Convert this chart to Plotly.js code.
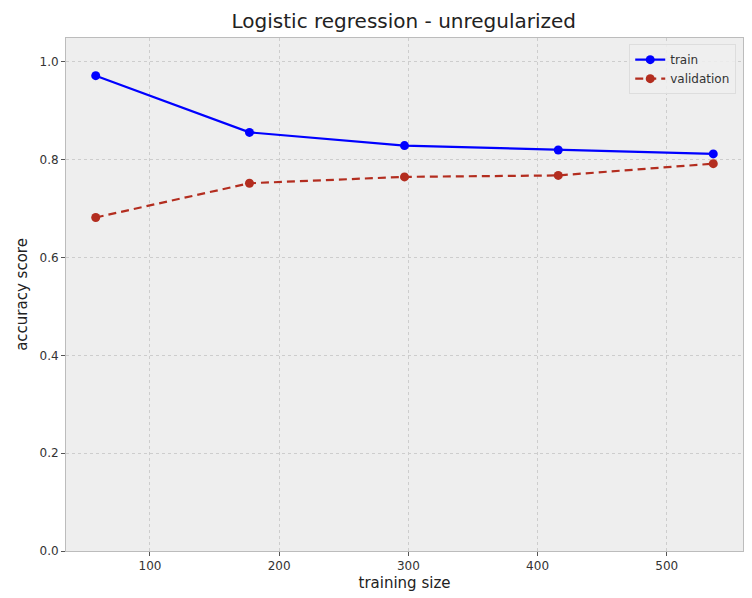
<!DOCTYPE html>
<html>
<head>
<meta charset="utf-8">
<script src="https://cdn.plot.ly/plotly-3.0.1.min.js"></script>
<style>html,body{margin:0;padding:0;background:#fff;}#chart{width:752px;height:598px;}</style>
</head>
<body>
<div id="chart"></div>
<script>
const trainSizes = [58, 177, 297, 416, 536];
const trainScores = [0.972, 0.856, 0.829, 0.820, 0.812];
const validationScores = [0.682, 0.752, 0.765, 0.768, 0.792];
const seriesNames = ['train', 'validation'];

const traces = [
  {x: trainSizes, y: trainScores, name: seriesNames[0], type: 'scatter', mode: 'lines+markers',
   line: {color: '#0000ff', width: 2.2}, marker: {color: '#0000ff', size: 9}},
  {x: trainSizes, y: validationScores, name: seriesNames[1], type: 'scatter', mode: 'lines+markers',
   line: {color: '#b32d1f', width: 2.2, dash: '8px,5px'}, marker: {color: '#b32d1f', size: 9}}
];

const layout = {
  width: 752, height: 598,
  margin: {l: 66, r: 9, t: 38, b: 47},
  paper_bgcolor: '#ffffff',
  plot_bgcolor: '#eeeeee',
  font: {family: 'DejaVu Sans, sans-serif', color: '#333333', size: 12},
  title: {text: 'Logistic regression - unregularized', font: {size: 20, color: '#222222'},
          x: 0.537, xanchor: 'center', y: 0.976, yanchor: 'top'},
  xaxis: {
    title: {text: 'training size', font: {size: 15, color: '#222222'}, standoff: 5},
    range: [35, 559], tickvals: [100, 200, 300, 400, 500],
    showgrid: true, gridcolor: '#cdcdcd', griddash: 'dot', gridwidth: 1,
    zeroline: false, showline: true, linecolor: '#bcbcbc', mirror: true, linewidth: 1,
    ticks: 'outside', ticklen: 4, tickcolor: '#555555', tickfont: {size: 12, color: '#333333'}
  },
  yaxis: {
    title: {text: 'accuracy score', font: {size: 15, color: '#222222'}, standoff: 8},
    range: [0, 1.049], tickvals: [0, 0.2, 0.4, 0.6, 0.8, 1.0], ticktext: ['0.0','0.2','0.4','0.6','0.8','1.0'],
    showgrid: true, gridcolor: '#cdcdcd', griddash: 'dot', gridwidth: 1,
    zeroline: false, showline: true, linecolor: '#bcbcbc', mirror: true, linewidth: 1,
    ticks: 'outside', ticklen: 4, tickcolor: '#555555', tickfont: {size: 12, color: '#333333'}
  },
  legend: {
    x: 0.99, xanchor: 'right', y: 0.988, yanchor: 'top',
    bgcolor: 'rgba(238,238,238,0.85)', bordercolor: '#dddddd', borderwidth: 1,
    font: {size: 12, color: '#333333'}
  },
  showlegend: true
};

Plotly.newPlot('chart', traces, layout, {displayModeBar: false, staticPlot: true});
</script>
</body>
</html>
